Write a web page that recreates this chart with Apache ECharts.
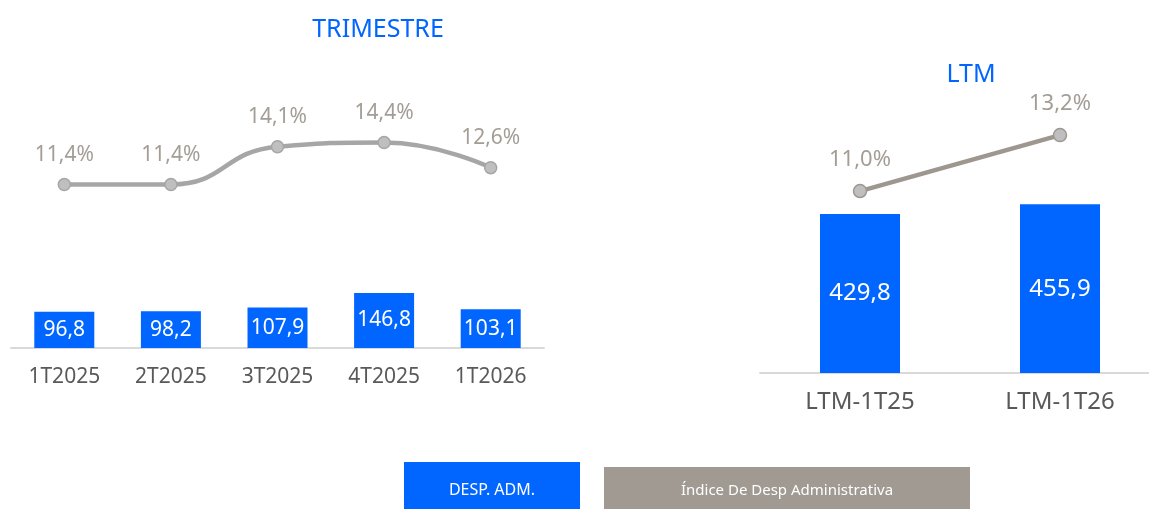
<!DOCTYPE html>
<html>
<head>
<meta charset="utf-8">
<script src="https://cdn.jsdelivr.net/npm/echarts@6/dist/echarts.min.js"></script>
<style>
  html, body { margin: 0; padding: 0; background: #fff; overflow: hidden; }
  #chart { width: 1200px; height: 509px; }
</style>
</head>
<body>
<div id="chart"></div>
<script>
// trimestre
const quarters = ['1T2025', '2T2025', '3T2025', '4T2025', '1T2026']
const despAdmQ = [96.8, 98.2, 107.9, 146.8, 103.1]
const indiceQ = [11.4, 11.4, 14.1, 14.4, 12.6]
// LTM
const ltmCats = ['LTM-1T25', 'LTM-1T26']
const despAdmLtm = [429.8, 455.9]
const indiceLtm = [11.0, 13.2]

const BLUE = '#0066ff'
const FONT = 'Noto Sans'
const comma = v => String(v.toFixed(1)).replace('.', ',')

const chart = echarts.init(document.getElementById('chart'))

const option = {
  animation: false,
  textStyle: { fontFamily: FONT },
  title: [
    { text: 'TRIMESTRE', left: 373, top: 12, textAlign: 'center',
      textStyle: { color: BLUE, fontSize: 25, fontWeight: 'normal', fontFamily: FONT } },
    { text: 'LTM', left: 966, top: 57, textAlign: 'center',
      textStyle: { color: BLUE, fontSize: 25, fontWeight: 'normal', fontFamily: FONT } }
  ],
  grid: [
    { left: 11, width: 533, top: 60, bottom: 161 },
    { left: 760, width: 400, top: 60, bottom: 136 }
  ],
  xAxis: [
    {
      type: 'category', gridIndex: 0, data: quarters,
      axisTick: { show: false },
      axisLine: { lineStyle: { color: '#d9d9d9', width: 2 } },
      axisLabel: { color: '#595959', fontSize: 21, margin: 19, fontFamily: FONT }
    },
    {
      type: 'category', gridIndex: 1, data: ltmCats,
      axisTick: { show: false },
      axisLine: { lineStyle: { color: '#d9d9d9', width: 2 } },
      axisLabel: { color: '#595959', fontSize: 24, margin: 17, fontFamily: FONT }
    }
  ],
  yAxis: [
    { type: 'value', gridIndex: 0, min: 0, max: 768, show: false, splitLine: { show: false } },
    { type: 'value', gridIndex: 0, min: -0.3, max: 20.3, show: false, splitLine: { show: false } },
    { type: 'value', gridIndex: 1, min: 0, max: 846, show: false, splitLine: { show: false } },
    { type: 'value', gridIndex: 1, min: 3.85, max: 16.15, show: false, splitLine: { show: false } }
  ],
  series: [
    {
      name: 'DESP. ADM.', type: 'bar', xAxisIndex: 0, yAxisIndex: 0,
      data: despAdmQ, barWidth: 60,
      itemStyle: { color: BLUE },
      label: { show: true, position: 'inside', color: '#fff', fontSize: 21,
        fontFamily: FONT, formatter: p => comma(p.value) }
    },
    {
      name: 'Índice De Desp Administrativa', type: 'line', xAxisIndex: 0, yAxisIndex: 1,
      data: indiceQ, smooth: 0.5,
      lineStyle: { color: '#a6a6a6', width: 4.5 },
      symbol: 'circle', symbolSize: 12,
      itemStyle: { color: '#bfbfbf', borderColor: '#a6a6a6', borderWidth: 1.5 },
      label: { show: true, position: 'top', distance: 12, color: '#a39d96', fontSize: 21,
        fontFamily: FONT, formatter: p => comma(p.value) + '%' }
    },
    {
      name: 'DESP. ADM.', type: 'bar', xAxisIndex: 1, yAxisIndex: 2,
      data: despAdmLtm, barWidth: 80,
      itemStyle: { color: BLUE },
      label: { show: true, position: 'inside', color: '#fff', fontSize: 24,
        fontFamily: FONT, formatter: p => comma(p.value) }
    },
    {
      name: 'Índice De Desp Administrativa', type: 'line', xAxisIndex: 1, yAxisIndex: 3,
      data: indiceLtm,
      lineStyle: { color: '#9e9790', width: 4.5 },
      symbol: 'circle', symbolSize: 13,
      itemStyle: { color: '#bfbfbf', borderColor: '#9e9790', borderWidth: 1.5 },
      label: { show: true, position: 'top', distance: 13, color: '#a39d96', fontSize: 22,
        fontFamily: FONT, formatter: p => comma(p.value) + '%' }
    }
  ],
  // legenda como caixas coloridas
  graphic: [
    {
      type: 'group', left: 404, top: 462,
      children: [
        { type: 'rect', shape: { x: 0, y: 0, width: 176, height: 47 }, style: { fill: BLUE } },
        { type: 'text', x: 88, y: 28, style: { text: 'DESP. ADM.', fill: '#fff', fontSize: 16,
          fontFamily: FONT, align: 'center', verticalAlign: 'middle' } }
      ]
    },
    {
      type: 'group', left: 604, top: 467,
      children: [
        { type: 'rect', shape: { x: 0, y: 0, width: 366, height: 42 }, style: { fill: '#a09a93' } },
        { type: 'text', x: 183, y: 24, style: { text: 'Índice De Desp Administrativa', fill: '#fff',
          fontSize: 15, fontFamily: FONT, align: 'center', verticalAlign: 'middle' } }
      ]
    }
  ]
}

chart.setOption(option)
</script>
</body>
</html>
